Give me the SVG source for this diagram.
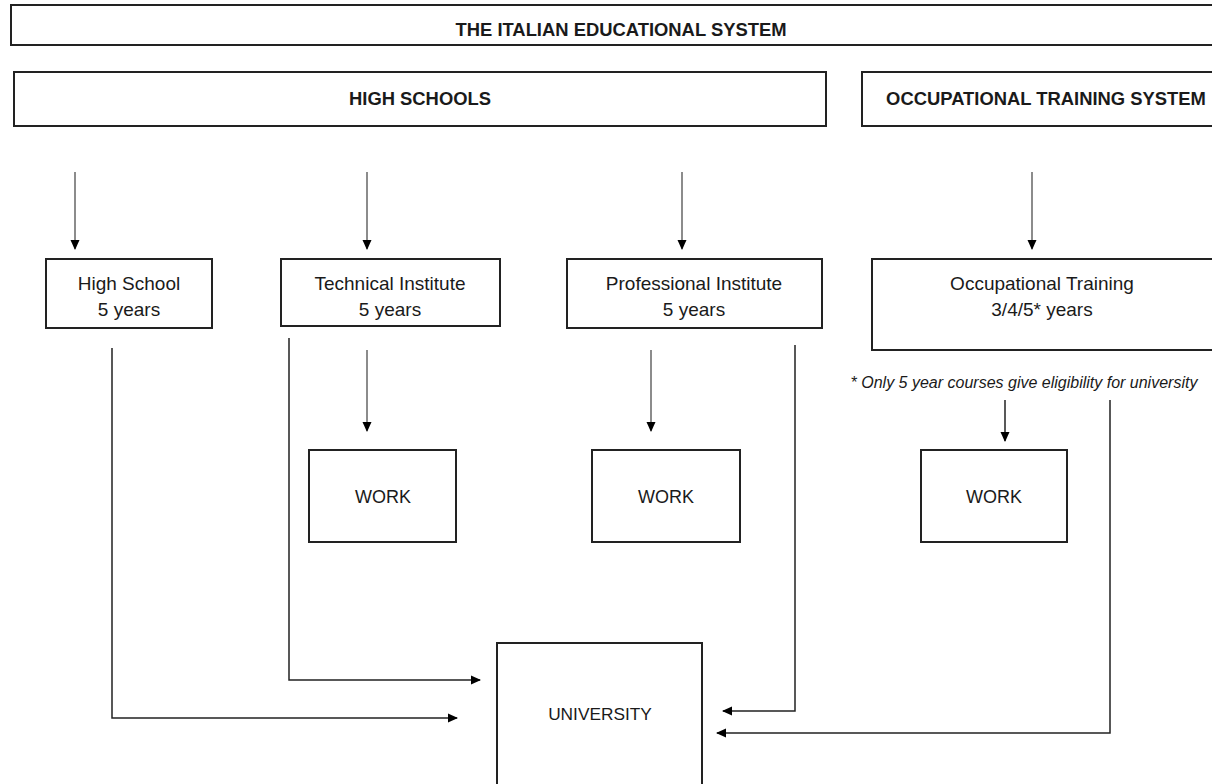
<svg xmlns="http://www.w3.org/2000/svg" width="1212" height="784" viewBox="0 0 1212 784">
<defs>
<marker id="ah" markerWidth="10" markerHeight="10" refX="9" refY="5" orient="auto" markerUnits="userSpaceOnUse">
<path d="M0,0.5 L10,5 L0,9.5 z" fill="#000"/>
</marker>
<style>
.box{fill:#fff;stroke:#222;stroke-width:2}
.t{font-family:"Liberation Sans",Arial,sans-serif;font-size:19px;fill:#1a1a1a;text-anchor:middle}
.h{font-family:"Liberation Sans",Arial,sans-serif;font-size:18.4px;font-weight:bold;fill:#1a1a1a;text-anchor:middle}
.cap{font-family:"Liberation Sans",Arial,sans-serif;font-size:18px;fill:#1a1a1a;text-anchor:middle}
.fn{font-family:"Liberation Sans",Arial,sans-serif;font-size:16px;font-style:italic;fill:#1a1a1a;text-anchor:middle}
.ca{fill:none;stroke:#666;stroke-width:1.5;marker-end:url(#ah)}
.cl{fill:none;stroke:#222;stroke-width:1.5;marker-end:url(#ah)}
</style>
</defs>
<rect width="1212" height="784" fill="#fff"/>
<g id="title"><rect class="box" x="11" y="5" width="1220" height="40"/><text class="h" x="621" y="36">THE ITALIAN EDUCATIONAL SYSTEM</text></g>
<g id="highschools"><rect class="box" x="14" y="72" width="812" height="54"/><text class="h" x="420" y="105">HIGH SCHOOLS</text></g>
<g id="occsystem"><rect class="box" x="862" y="72" width="370" height="54"/><text class="h" x="1046" y="105">OCCUPATIONAL TRAINING SYSTEM</text></g>
<g id="highschool"><rect class="box" x="46" y="259" width="166" height="69"/><text class="t" x="129" y="290">High School</text><text class="t" x="129" y="316">5 years</text></g>
<g id="technical"><rect class="box" x="281" y="259" width="219" height="67"/><text class="t" x="390" y="290">Technical Institute</text><text class="t" x="390" y="316">5 years</text></g>
<g id="professional"><rect class="box" x="567" y="259" width="255" height="69"/><text class="t" x="694" y="290">Professional Institute</text><text class="t" x="694" y="316">5 years</text></g>
<g id="occtraining"><rect class="box" x="872" y="259" width="342" height="91"/><text class="t" x="1042" y="290">Occupational Training</text><text class="t" x="1042" y="316">3/4/5* years</text></g>
<text class="fn" x="1024" y="388">* Only 5 year courses give eligibility for university</text>
<g id="work1"><rect class="box" x="309" y="450" width="147" height="92"/><text class="cap" x="383" y="503">WORK</text></g>
<g id="work2"><rect class="box" x="592" y="450" width="148" height="92"/><text class="cap" x="666" y="503">WORK</text></g>
<g id="work3"><rect class="box" x="921" y="450" width="146" height="92"/><text class="cap" x="994" y="503">WORK</text></g>
<g id="university"><rect class="box" x="497" y="643" width="205" height="150"/><text class="cap" x="600" y="720" style="font-size:17.3px">UNIVERSITY</text></g>
<g id="connectors">
<line class="ca" x1="75" y1="172" x2="75" y2="249"/>
<line class="ca" x1="367" y1="172" x2="367" y2="249"/>
<line class="ca" x1="682" y1="172" x2="682" y2="249"/>
<line class="ca" x1="1032" y1="172" x2="1032" y2="249"/>
<line class="ca" x1="367" y1="350" x2="367" y2="431"/>
<line class="ca" x1="651" y1="350" x2="651" y2="431"/>
<line class="cl" x1="1005" y1="400" x2="1005" y2="441"/>
<polyline class="cl" points="112,348 112,718 457,718"/>
<polyline class="cl" points="289,338 289,680 480,680"/>
<polyline class="cl" points="795,345 795,711 723,711"/>
<polyline class="cl" points="1110,400 1110,733 717,733"/>
</g>
</svg>
